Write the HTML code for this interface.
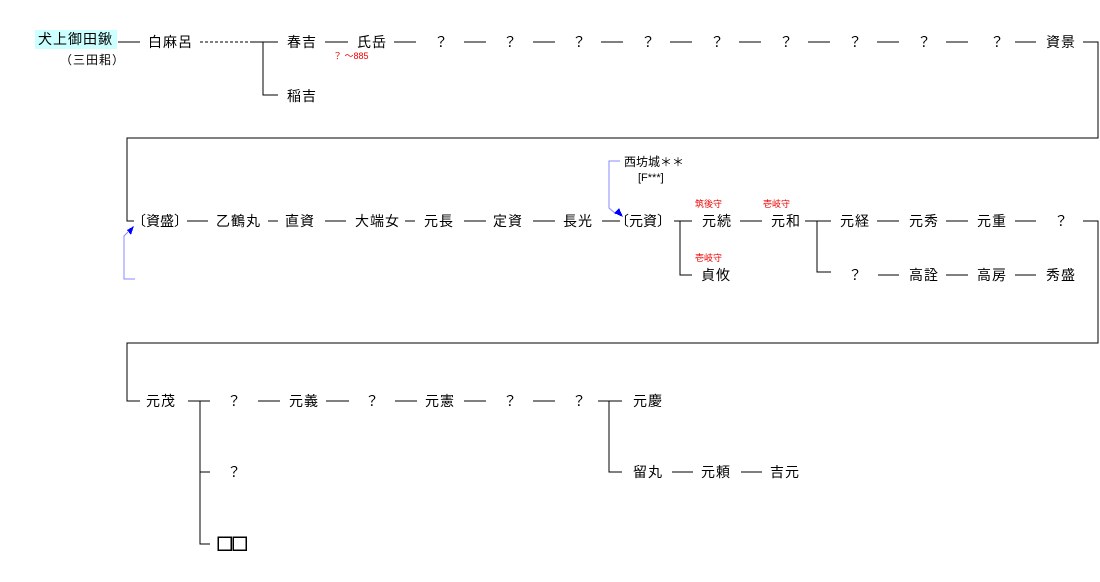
<!DOCTYPE html>
<html><head><meta charset="utf-8"><style>
body{margin:0;width:1100px;height:582px;background:#fff;position:relative;overflow:hidden;font-family:"Liberation Sans","Noto Sans CJK JP",sans-serif;font-size:14px;color:#000}
.t{position:absolute;line-height:16px;white-space:nowrap;letter-spacing:1px}
.r{color:#e00;font-size:9px;line-height:10px;letter-spacing:0}
svg{position:absolute;left:0;top:0}
</style></head><body>
<svg width="1100" height="582" stroke="#000" stroke-width="1" fill="none" shape-rendering="crispEdges">
<line x1="118" y1="42" x2="140" y2="42"/>
<line x1="200" y1="42" x2="252" y2="42" stroke-dasharray="3,2"/>
<line x1="252" y1="42" x2="278" y2="42"/>
<polyline points="263,42 263,95 278,95"/>
<line x1="325" y1="42" x2="348" y2="42"/>
<line x1="394" y1="42" x2="416" y2="42"/>
<line x1="464" y1="42" x2="486" y2="42"/>
<line x1="533" y1="42" x2="555" y2="42"/>
<line x1="601" y1="42" x2="623" y2="42"/>
<line x1="670" y1="42" x2="692" y2="42"/>
<line x1="739" y1="42" x2="761" y2="42"/>
<line x1="808" y1="42" x2="830" y2="42"/>
<line x1="877" y1="42" x2="899" y2="42"/>
<line x1="946" y1="42" x2="968" y2="42"/>
<line x1="1015" y1="42" x2="1036" y2="42"/>
<polyline points="1083,42 1098,42 1098,138 127,138 127,221 134,221"/>
<line x1="187" y1="221" x2="208" y2="221"/>
<line x1="268" y1="221" x2="278" y2="221"/>
<line x1="325" y1="221" x2="346" y2="221"/>
<line x1="405" y1="221" x2="415" y2="221"/>
<line x1="464" y1="221" x2="486" y2="221"/>
<line x1="533" y1="221" x2="555" y2="221"/>
<line x1="602" y1="221" x2="620" y2="221"/>
<line x1="674" y1="221" x2="692" y2="221"/>
<polyline points="680,221 680,275 692,275"/>
<line x1="740" y1="221" x2="762" y2="221"/>
<line x1="805" y1="221" x2="831" y2="221"/>
<polyline points="817,221 817,272 831,272"/>
<line x1="877" y1="221" x2="899" y2="221"/>
<line x1="946" y1="221" x2="968" y2="221"/>
<line x1="1015" y1="221" x2="1036" y2="221"/>
<line x1="878" y1="275" x2="899" y2="275"/>
<line x1="946" y1="275" x2="968" y2="275"/>
<line x1="1015" y1="275" x2="1036" y2="275"/>
<polyline points="1083,221 1098,221 1098,343 127,343 127,401 140,401"/>
<line x1="188" y1="401" x2="210" y2="401"/>
<polyline points="200,401 200,544 210,544"/>
<line x1="200" y1="472" x2="210" y2="472"/>
<line x1="258" y1="401" x2="280" y2="401"/>
<line x1="326" y1="401" x2="349" y2="401"/>
<line x1="395" y1="401" x2="417" y2="401"/>
<line x1="464" y1="401" x2="486" y2="401"/>
<line x1="533" y1="401" x2="555" y2="401"/>
<line x1="598" y1="401" x2="622" y2="401"/>
<polyline points="609,401 609,472 622,472"/>
<line x1="672" y1="472" x2="693" y2="472"/>
<line x1="741" y1="472" x2="762" y2="472"/>
<g stroke="#88f" shape-rendering="auto">
<polyline points="620,161 609,161 609,208 616,214"/>
<polyline points="135,279 124,279 124,236 128,232"/>
</g>
<polygon points="623,217 614,213 619,208" fill="#00f" stroke="none"/>
<polygon points="134,226 131,235 127,230" fill="#00f" stroke="none"/>
<rect x="218" y="537" width="13" height="13" stroke-width="1.5"/>
<rect x="233" y="537" width="13" height="13" stroke-width="1.5"/>
</svg>
<div class="t" style="left:35px;top:30px;height:19px;line-height:19px;width:82px;background:#ccffff;padding-left:3px;box-sizing:border-box">犬上御田鍬</div>
<div class="t" style="left:60px;top:52px;font-size:12px">（三田耜）</div>
<div class="t" style="left:148px;top:34px">白麻呂</div>
<div class="t" style="left:287px;top:34px">春吉</div>
<div class="t" style="left:357px;top:34px">氏岳</div>
<div class="t r" style="left:333px;top:51px">？ ～885</div>
<div class="t" style="left:287px;top:88px">稲吉</div>
<div class="t" style="left:434px;top:34px">？</div>
<div class="t" style="left:503px;top:34px">？</div>
<div class="t" style="left:572px;top:34px">？</div>
<div class="t" style="left:641px;top:34px">？</div>
<div class="t" style="left:710px;top:34px">？</div>
<div class="t" style="left:779px;top:34px">？</div>
<div class="t" style="left:848px;top:34px">？</div>
<div class="t" style="left:917px;top:34px">？</div>
<div class="t" style="left:990px;top:34px">？</div>
<div class="t" style="left:1046px;top:34px">資景</div>

<div class="t" style="left:132px;top:213px;letter-spacing:0">〔資盛〕</div>
<div class="t" style="left:216px;top:213px">乙鶴丸</div>
<div class="t" style="left:285px;top:213px">直資</div>
<div class="t" style="left:355px;top:213px">大端女</div>
<div class="t" style="left:424px;top:213px">元長</div>
<div class="t" style="left:493px;top:213px">定資</div>
<div class="t" style="left:563px;top:213px">長光</div>
<div class="t" style="left:615px;top:213px;letter-spacing:0">〔元資〕</div>
<div class="t" style="left:624px;top:154px;font-size:12px;letter-spacing:0">西坊城＊＊</div>
<div class="t" style="left:638px;top:170px;font-size:11px;letter-spacing:0">[F***]</div>
<div class="t r" style="left:695px;top:199px">筑後守</div>
<div class="t r" style="left:763px;top:199px">壱岐守</div>
<div class="t r" style="left:695px;top:253px">壱岐守</div>
<div class="t" style="left:702px;top:213px">元続</div>
<div class="t" style="left:771px;top:213px">元和</div>
<div class="t" style="left:840px;top:213px">元経</div>
<div class="t" style="left:909px;top:213px">元秀</div>
<div class="t" style="left:977px;top:213px">元重</div>
<div class="t" style="left:1054px;top:213px">？</div>
<div class="t" style="left:701px;top:267px">貞攸</div>
<div class="t" style="left:848px;top:267px">？</div>
<div class="t" style="left:909px;top:267px">高詮</div>
<div class="t" style="left:977px;top:267px">高房</div>
<div class="t" style="left:1046px;top:267px">秀盛</div>

<div class="t" style="left:146px;top:393px">元茂</div>
<div class="t" style="left:227px;top:393px">？</div>
<div class="t" style="left:289px;top:393px">元義</div>
<div class="t" style="left:365px;top:393px">？</div>
<div class="t" style="left:425px;top:393px">元憲</div>
<div class="t" style="left:503px;top:393px">？</div>
<div class="t" style="left:572px;top:393px">？</div>
<div class="t" style="left:633px;top:393px">元慶</div>
<div class="t" style="left:227px;top:464px">？</div>
<div class="t" style="left:633px;top:464px">留丸</div>
<div class="t" style="left:701px;top:464px">元頼</div>
<div class="t" style="left:770px;top:464px">吉元</div>
<div class="t" style="left:217px;top:536px;color:transparent">□□</div>
</body></html>
